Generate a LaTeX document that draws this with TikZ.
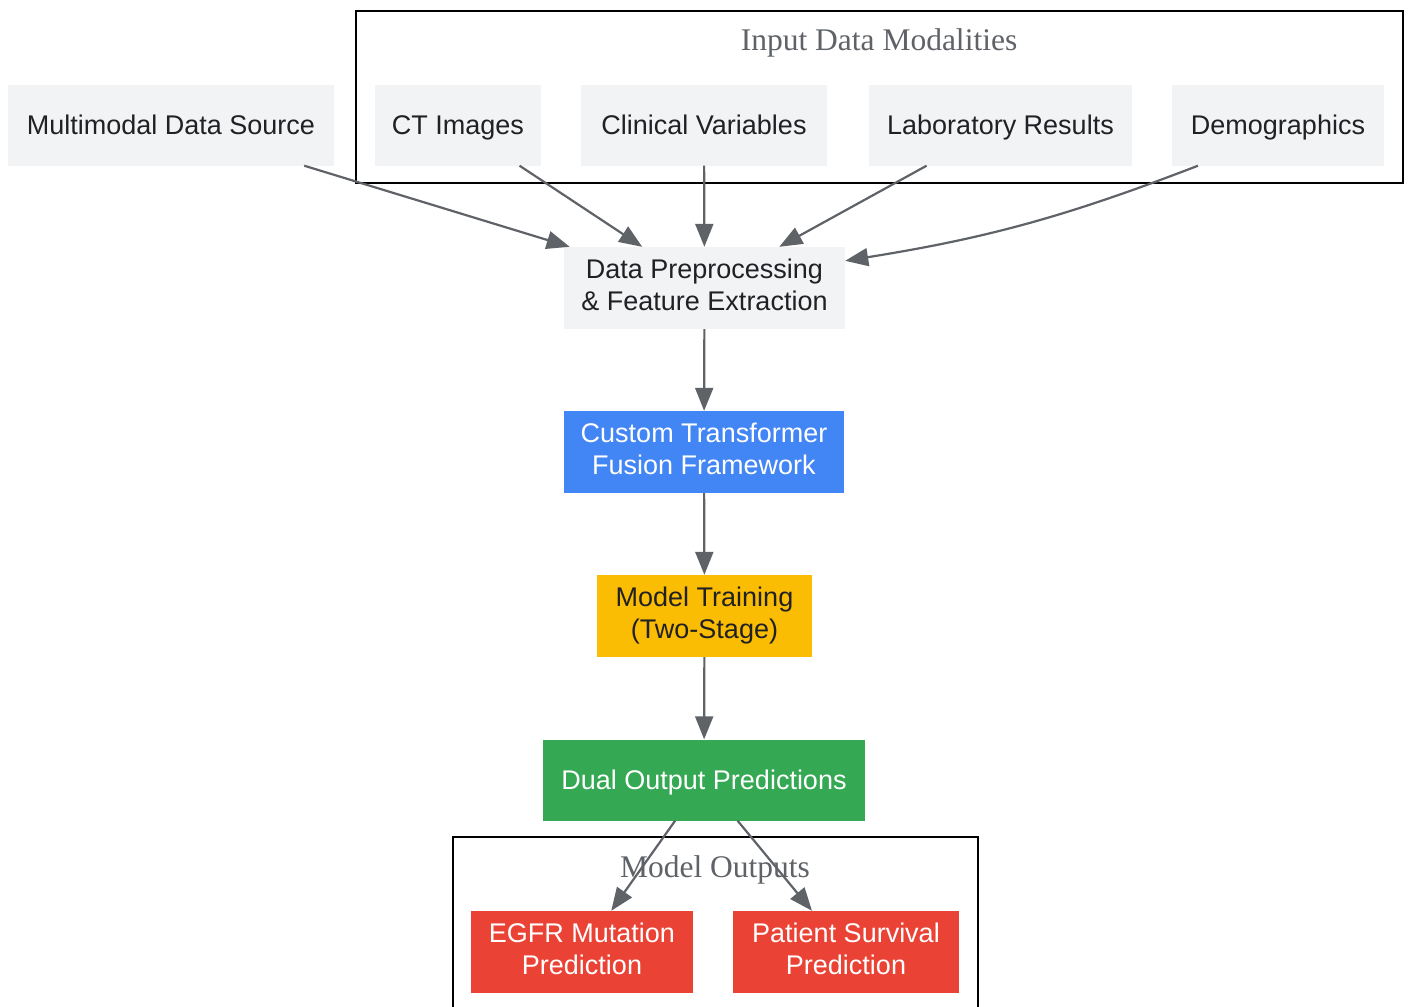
\documentclass[tikz,border=0pt]{standalone}
\usepackage{fontspec}
\setmainfont{Liberation Sans}
\newfontfamily\titlefont{Liberation Serif}
\usetikzlibrary{arrows.meta}

% Fixed line height so every label sits at the same place
\newcommand{\labelstrut}{\rule[-6pt]{0pt}{31pt}}

\begin{document}
\begin{tikzpicture}[
  x=1pt, y=-1pt,
  box/.style={
    inner sep=0pt, % Size comes from the minimum width
    minimum height=81pt,
    align=center,
    text=textDark,
    font=\fontsize{27}{32}\selectfont,
    execute at begin node=\labelstrut,
    execute at end node=\labelstrut
  },
  twoline/.style={minimum height=82pt, execute at begin node=\rule{0pt}{31pt}}, % Two-line labels sit a bit lower
  grey/.style={box, fill=stepGrey}, % Plain step
  tinted/.style={box, fill=#1, text=white}, % Coloured step
  group/.style={draw=black, line width=2pt, fill=white}, % Cluster frame
  grouptitle/.style={text=edgeGrey, font=\titlefont\fontsize{31.5}{36}\selectfont},
  flow/.style={draw=edgeGrey, line width=2.2pt, -{Triangle[length=23pt,width=18pt]}}
]

% Define colors for styling
\definecolor{stepGrey}{RGB}{241,243,244}  % Light grey for plain steps
\definecolor{textDark}{RGB}{32,33,36}     % Dark text
\definecolor{edgeGrey}{RGB}{95,99,104}    % Connectors and titles
\definecolor{fusionBlue}{RGB}{66,133,244} % Fusion framework
\definecolor{trainYellow}{RGB}{251,188,4} % Model training
\definecolor{dualGreen}{RGB}{52,168,83}   % Dual output
\definecolor{outRed}{RGB}{234,67,53}      % Final predictions

% Page size
\fill[white] (0,0) rectangle (1409,1007);
\useasboundingbox (0,0) rectangle (1409,1007);

% Cluster frames
\draw[group] (356,11) rectangle (1403,183);
\node[grouptitle] (inTitle) at (879,43) {Input Data Modalities};
\draw[group] (453,837) rectangle (978,1015);
\node[grouptitle] (outTitle) at (715,870) {Model Outputs};

% Inputs
\node[grey, minimum width=326pt] (src) at (171,125) {Multimodal Data Source};
\node[grey, minimum width=166pt] (ct) at (458,125) {CT Images};
\node[grey, minimum width=246pt] (clin) at (704,125) {Clinical Variables};
\node[grey, minimum width=263pt] (lab) at (1000.5,125) {Laboratory Results};
\node[grey, minimum width=212pt] (demo) at (1278,125) {Demographics};

% Pipeline
\node[grey, twoline, minimum width=281pt] (prep) at (704.5,288) {Data Preprocessing\\\& Feature Extraction};
\node[tinted=fusionBlue, twoline, minimum width=280pt] (fusion) at (704,452) {Custom Transformer\\Fusion Framework};
\node[tinted=trainYellow, twoline, text=textDark, minimum width=215pt] (train) at (704.5,616) {Model Training\\(Two-Stage)};
\node[tinted=dualGreen, minimum width=322pt] (dual) at (704,780) {Dual Output Predictions};

% Outputs
\node[tinted=outRed, twoline, minimum width=222pt] (egfr) at (582,952) {EGFR Mutation\\Prediction};
\node[tinted=outRed, twoline, minimum width=226pt] (surv) at (846,952) {Patient Survival\\Prediction};

% Connectors
\draw[flow] (src) -- (prep);
\draw[flow] (ct) -- (prep);
\draw[flow] (clin) -- (prep);
\draw[flow] (lab) -- (prep);
\draw[flow] ([xshift=-80pt]demo.south) to[bend left=6] ([yshift=-14pt]prep.north east);
\draw[flow] (prep) -- (fusion);
\draw[flow] (fusion) -- (train);
\draw[flow] (train) -- (dual);
\draw[flow] (dual) -- (egfr);
\draw[flow] (dual) -- (surv);

\end{tikzpicture}
\end{document}
